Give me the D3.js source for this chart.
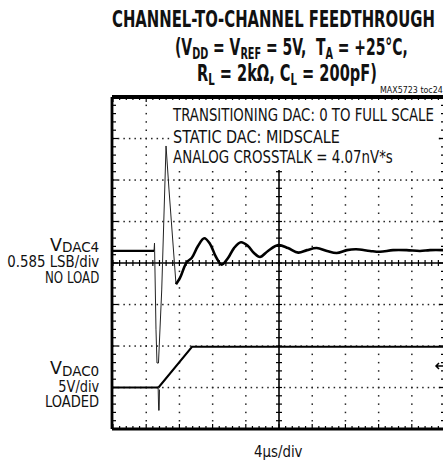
<!DOCTYPE html>
<html>
<head>
<meta charset="utf-8">
<script src="https://cdn.jsdelivr.net/npm/d3@7"></script>
<style>
  body { margin: 0; background: #fff; }
  svg { display: block; }
  text { font-family: "Liberation Sans Narrow", "DejaVu Sans Condensed", sans-serif; fill: #111; }
</style>
</head>
<body>
<svg id="chart"></svg>
<script>
// Time axis: 4us/div, 10 divisions. Vertical: 8 divisions, values in divisions from centre.
const timeTicks = [0, 4, 8, 12, 16, 20, 24, 28, 32, 36, 40];
const divTicks = [-4, -3, -2, -1, 0, 1, 2, 3, 4];

// VDAC4 (0.585 LSB/div, no load)
const vdac4Pre = [[0, 0.29], [4.94, 0.29]];
const vdac4Spike = [
  [4.94, 0.29], [5.0, 0.48], [5.18, -1.61], [5.3, -2.41], [5.48, -2.41],
  [5.87, -0.65], [6.39, 2.82], [6.75, 1.76], [7.59, -0.51]
];
const vdac4Ring = [
  [7.59, -0.51], [8.07, -0.36], [8.88, 0.02], [9.48, 0.12], [10.24, 0.41],
  [11.0, 0.595], [11.69, 0.46], [12.41, 0.145], [13.1, -0.04], [13.86, 0.12],
  [14.58, 0.36], [15.42, 0.5], [16.26, 0.41], [16.99, 0.24], [17.71, 0.145],
  [18.67, 0.29], [19.91, 0.43], [21.08, 0.36], [22.32, 0.25], [23.37, 0.31],
  [24.54, 0.36], [25.78, 0.29], [26.95, 0.24], [28.19, 0.31], [29.28, 0.33],
  [30.96, 0.29], [32.17, 0.27], [33.74, 0.31], [35.38, 0.31], [36.99, 0.29],
  [38.19, 0.31], [40, 0.31]
];

// VDAC0 (5V/div, loaded)
const vdac0Pre = [[0, -3.0], [5.48, -3.0]];
const vdac0Spike = [[5.44, -3.0], [5.5, -3.55], [5.56, -3.55], [5.6, -3.05]];
const vdac0Ramp = [[5.48, -3.0], [9.52, -2.02], [40, -2.02]];
const groundMarker = -2.48;

const notes = [
  "TRANSITIONING DAC: 0 TO FULL SCALE",
  "STATIC DAC: MIDSCALE",
  "ANALOG CROSSTALK = 4.07nV*s"
];

const width = 443;
const height = 461;

const x = d3.scaleLinear().domain([0, 40]).range([113, 445]);
const y = d3.scaleLinear().domain([-4, 4]).range([429, 97]);

const svg = d3.select("#chart").attr("width", width).attr("height", height);
svg.append("rect").attr("width", width).attr("height", height).attr("fill", "#fff");

// squeeze a text so it spans x0..x1
function fit(sel, x0, x1) {
  const w = sel.node().getBBox().width;
  sel.attr("x", 0).attr("transform", `translate(${x0},0) scale(${(x1 - x0) / w},1)`);
  return sel;
}

// Dotted grid (dots as small squares)
const grid = svg.append("g").attr("fill", "#222");
const hDots = [];
divTicks.filter((d) => d !== 0 && Math.abs(d) !== 4).forEach((d) => {
  d3.range(0, 40, 4 / 6).forEach((t) => hDots.push([t, d]));
});
const vDots = [];
timeTicks.filter((t) => t !== 20 && t !== 0 && t !== 40).forEach((t) => {
  d3.range(-4, 4, 0.2).forEach((d) => vDots.push([t, d]));
});
grid.selectAll(".dot")
  .data(hDots.concat(vDots))
  .enter().append("rect")
  .attr("x", (d) => x(d[0]) - 0.7)
  .attr("y", (d) => y(d[1]) - 0.7)
  .attr("width", 1.5).attr("height", 1.5);

// Centre axes with minor ticks
const minorT = d3.range(0, 40.01, 0.8);
const minorV = d3.range(-4, 4.01, 0.2);
const isMajor = (d) => Math.abs(d - Math.round(d)) < 0.01;
const axes = svg.append("g").attr("stroke", "#000");
axes.append("line").attr("x1", x(0)).attr("x2", x(40)).attr("y1", y(0)).attr("y2", y(0)).attr("stroke-width", 1.6);
axes.append("line").attr("x1", x(20)).attr("x2", x(20)).attr("y1", y(4)).attr("y2", y(-4)).attr("stroke-width", 1.6);
axes.selectAll(".ht").data(minorT).enter().append("line")
  .attr("x1", (d) => x(d)).attr("x2", (d) => x(d))
  .attr("y1", y(0) - 3).attr("y2", y(0) + 3).attr("stroke-width", 1.2);
axes.selectAll(".vt").data(minorV).enter().append("line")
  .attr("y1", (d) => y(d)).attr("y2", (d) => y(d))
  .attr("x1", x(20) - 3).attr("x2", x(20) + 3).attr("stroke-width", 1.2);

// Frame ticks (inward)
axes.selectAll(".lt").data(minorV).enter().append("line")
  .attr("y1", (d) => y(d)).attr("y2", (d) => y(d))
  .attr("x1", x(0)).attr("x2", (d) => x(0) + (isMajor(d) ? 5 : 3))
  .attr("stroke-width", 1.2);
axes.selectAll(".rt").data(minorV).enter().append("line")
  .attr("y1", (d) => y(d)).attr("y2", (d) => y(d))
  .attr("x1", x(40)).attr("x2", (d) => x(40) - (isMajor(d) ? 6 : 4))
  .attr("stroke-width", 1.3);
axes.selectAll(".bt").data(minorT).enter().append("line")
  .attr("x1", (d) => x(d)).attr("x2", (d) => x(d))
  .attr("y1", y(-4)).attr("y2", (d) => y(-4) - (d % 4 === 0 ? 5 : 3))
  .attr("stroke-width", 1.2);
axes.selectAll(".tt").data(minorT).enter().append("line")
  .attr("x1", (d) => x(d)).attr("x2", (d) => x(d))
  .attr("y1", y(4)).attr("y2", (d) => y(4) + (d % 4 === 0 ? 5 : 3))
  .attr("stroke-width", 1.2);

// Frame
svg.append("line").attr("x1", x(0) - 1).attr("x2", x(40)).attr("y1", y(4)).attr("y2", y(4))
  .attr("stroke", "#000").attr("stroke-width", 4);
svg.append("line").attr("x1", x(0) - 1).attr("x2", x(40)).attr("y1", y(-4)).attr("y2", y(-4))
  .attr("stroke", "#000").attr("stroke-width", 3);
svg.append("line").attr("x1", x(0) - 1).attr("x2", x(0) - 1).attr("y1", y(4)).attr("y2", y(-4))
  .attr("stroke", "#000").attr("stroke-width", 2.8);
svg.append("line").attr("x1", x(40)).attr("x2", x(40)).attr("y1", y(4)).attr("y2", y(-4))
  .attr("stroke", "#000").attr("stroke-width", 2.6);

// Notes box (white background hides grid behind the text)
svg.append("rect").attr("x", 171).attr("y", 100).attr("width", 266).attr("height", 70).attr("fill", "#fff");
const noteY = [121, 142.7, 163.3];
const noteX1 = [435, 340, 393];
notes.forEach((t, i) => {
  const el = svg.append("text").attr("y", noteY[i]).style("font-size", "17px").attr("fill", "#222").text(t);
  fit(el, 173, noteX1[i]);
});

// Traces
const line = d3.line().x((d) => x(d[0])).y((d) => y(d[1]));
const smooth = d3.line().x((d) => x(d[0])).y((d) => y(d[1])).curve(d3.curveCatmullRom.alpha(0.5));

svg.append("path").datum(vdac4Spike).attr("d", line)
  .attr("fill", "none").attr("stroke", "#222").attr("stroke-width", 1);
svg.append("path").datum(vdac4Pre).attr("d", line)
  .attr("fill", "none").attr("stroke", "#000").attr("stroke-width", 2.2);
svg.append("path").datum(vdac4Ring).attr("d", smooth)
  .attr("fill", "none").attr("stroke", "#000").attr("stroke-width", 2.6);

svg.append("path").datum(vdac0Spike).attr("d", line)
  .attr("fill", "none").attr("stroke", "#222").attr("stroke-width", 1);
svg.append("path").datum(vdac0Pre).attr("d", line)
  .attr("fill", "none").attr("stroke", "#000").attr("stroke-width", 2);
svg.append("path").datum(vdac0Ramp).attr("d", line)
  .attr("fill", "none").attr("stroke", "#000").attr("stroke-width", 2);

// ground marker arrow at right edge
const gy = y(groundMarker);
svg.append("path")
  .attr("d", `M443,${gy} L436,${gy} M439,${gy - 3} L436,${gy} L439,${gy + 3}`)
  .attr("fill", "none").attr("stroke", "#000").attr("stroke-width", 1.5);

// Title
const t1 = svg.append("text").attr("y", 26.7).style("font-size", "23px").style("font-weight", "bold")
  .attr("fill", "#000").text("CHANNEL-TO-CHANNEL FEEDTHROUGH");
fit(t1, 112, 435);

// text with subscripts; parts alternate normal / subscript
function subText(yPos, parts, size, weight, x0, x1, subSize, subShift) {
  const el = svg.append("text").attr("y", yPos).style("font-size", size + "px").style("font-weight", weight)
    .attr("fill", "#000").attr("xml:space", "preserve");
  let shift = 0;
  parts.forEach((p) => {
    if (p.sub) {
      el.append("tspan").attr("dy", subShift - shift).style("font-size", subSize + "px").text(p.sub);
      shift = subShift;
    } else {
      el.append("tspan").attr("dy", -shift).text(p.t);
      shift = 0;
    }
  });
  fit(el, x0, x1);
  return el;
}

subText(55, [{ t: "(V" }, { sub: "DD" }, { t: " = V" }, { sub: "REF" }, { t: " = 5V,  T" }, { sub: "A" }, { t: " = +25°C," }],
  23, "bold", 175, 408, 16, 4);
subText(81, [{ t: "R" }, { sub: "L" }, { t: " = 2kΩ, C" }, { sub: "L" }, { t: " = 200pF)" }],
  23, "bold", 197, 377, 16, 4);

const tag = svg.append("text").attr("y", 93).style("font-size", "8.5px").attr("fill", "#444").text("MAX5723 toc24");
fit(tag, 380, 443);

// Left channel labels
subText(251, [{ t: "V" }, { sub: "DAC4" }], 18, "normal", 50, 99.3, 14, 1.5);
fit(svg.append("text").attr("y", 266.7).style("font-size", "15px").text("0.585 LSB/div"), 7.3, 99.3);
fit(svg.append("text").attr("y", 283.3).style("font-size", "15px").text("NO LOAD"), 45, 99.3);
subText(374.5, [{ t: "V" }, { sub: "DAC0" }], 18, "normal", 50, 99.3, 14, 1.5);
fit(svg.append("text").attr("y", 391.7).style("font-size", "15px").text("5V/div"), 58.3, 99.3);
fit(svg.append("text").attr("y", 407.3).style("font-size", "15px").text("LOADED"), 45, 99.3);

// x label
fit(svg.append("text").attr("y", 456.7).style("font-size", "16px").attr("fill", "#222").text("4µs/div"), 254, 303);
</script>
</body>
</html>
